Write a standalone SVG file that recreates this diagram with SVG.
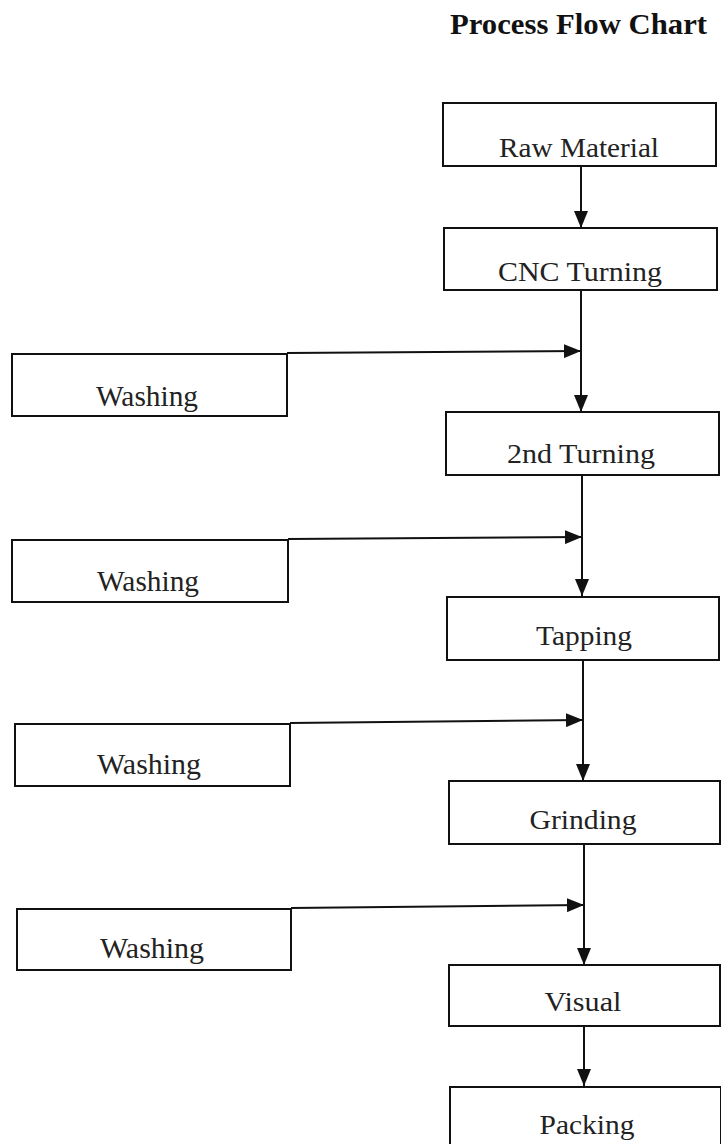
<svg xmlns="http://www.w3.org/2000/svg" width="721" height="1144" viewBox="0 0 721 1144">
<style>
.box{fill:#fff;stroke:#111;stroke-width:2}
.lbl{font-family:"Liberation Serif","Times New Roman",serif;font-size:28px;fill:#222;text-anchor:middle}
.wash{font-size:30px}
.title{font-family:"Liberation Serif","Times New Roman",serif;font-size:29px;font-weight:bold;fill:#111}
.conn{stroke:#111;stroke-width:2;fill:none}
</style>
<defs>
<marker id="ah" markerWidth="18" markerHeight="14" refX="17" refY="7" orient="auto" markerUnits="userSpaceOnUse">
<path d="M0,0 L17,7 L0,14 z" fill="#111"/>
</marker>
</defs>
<rect width="721" height="1144" fill="#fff"/>
<text class="title" x="450" y="34" textLength="257" lengthAdjust="spacingAndGlyphs">Process  Flow Chart</text>

<g id="connectors">
<line class="conn" x1="581" y1="166" x2="581" y2="228" marker-end="url(#ah)"/>
<line class="conn" x1="581" y1="290" x2="581" y2="412" marker-end="url(#ah)"/>
<line class="conn" x1="287" y1="353" x2="581" y2="351" marker-end="url(#ah)"/>
<line class="conn" x1="582" y1="475" x2="582" y2="596" marker-end="url(#ah)"/>
<line class="conn" x1="288" y1="539" x2="582" y2="537" marker-end="url(#ah)"/>
<line class="conn" x1="583" y1="660" x2="583" y2="781" marker-end="url(#ah)"/>
<line class="conn" x1="290" y1="723" x2="583" y2="720" marker-end="url(#ah)"/>
<line class="conn" x1="584" y1="844" x2="584" y2="965" marker-end="url(#ah)"/>
<line class="conn" x1="291" y1="908" x2="584" y2="905" marker-end="url(#ah)"/>
<line class="conn" x1="584" y1="1026" x2="584" y2="1086" marker-end="url(#ah)"/>
</g>

<g id="raw-material">
<rect class="box" x="443" y="103" width="273" height="63"/>
<text class="lbl" x="579" y="157" textLength="160" lengthAdjust="spacingAndGlyphs">Raw Material</text>
</g>
<g id="cnc-turning">
<rect class="box" x="444" y="228" width="273" height="62"/>
<text class="lbl" x="580" y="281" textLength="164" lengthAdjust="spacingAndGlyphs">CNC Turning</text>
</g>
<g id="washing-1">
<rect class="box" x="12" y="354" width="275" height="62"/>
<text class="lbl wash" x="147" y="406" textLength="102" lengthAdjust="spacingAndGlyphs">Washing</text>
</g>
<g id="second-turning">
<rect class="box" x="446" y="412" width="273" height="63"/>
<text class="lbl" x="581" y="463" textLength="148" lengthAdjust="spacingAndGlyphs">2nd Turning</text>
</g>
<g id="washing-2">
<rect class="box" x="12" y="540" width="276" height="62"/>
<text class="lbl wash" x="148" y="591" textLength="102" lengthAdjust="spacingAndGlyphs">Washing</text>
</g>
<g id="tapping">
<rect class="box" x="447" y="597" width="272" height="63"/>
<text class="lbl" x="584" y="645" textLength="96" lengthAdjust="spacingAndGlyphs">Tapping</text>
</g>
<g id="washing-3">
<rect class="box" x="15" y="724" width="275" height="62"/>
<text class="lbl wash" x="149" y="774" textLength="104" lengthAdjust="spacingAndGlyphs">Washing</text>
</g>
<g id="grinding">
<rect class="box" x="449" y="781" width="271" height="63"/>
<text class="lbl" x="583" y="829" textLength="107" lengthAdjust="spacingAndGlyphs">Grinding</text>
</g>
<g id="washing-4">
<rect class="box" x="17" y="909" width="274" height="61"/>
<text class="lbl wash" x="152" y="958" textLength="104" lengthAdjust="spacingAndGlyphs">Washing</text>
</g>
<g id="visual">
<rect class="box" x="449" y="965" width="271" height="61"/>
<text class="lbl" x="583" y="1011" textLength="77" lengthAdjust="spacingAndGlyphs">Visual</text>
</g>
<g id="packing">
<rect class="box" x="450" y="1087" width="271" height="60"/>
<text class="lbl" x="587" y="1134" textLength="95" lengthAdjust="spacingAndGlyphs">Packing</text>
</g>
</svg>
